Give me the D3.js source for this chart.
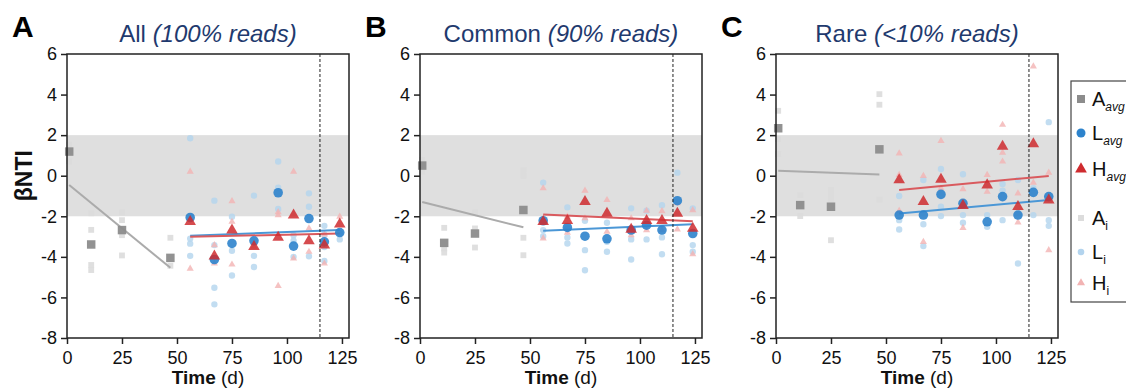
<!DOCTYPE html>
<html>
<head>
<meta charset="utf-8">
<script src="https://cdn.jsdelivr.net/npm/d3@7"></script>
<style>
  body { margin: 0; background: #fff; }
  text { font-family: "Liberation Sans", Arial, sans-serif; }
</style>
</head>
<body>
<div id="chart-area"></div>
<script>
// sampling days
const aTimes = [1, 11, 25, 47]
const times = [56, 67, 75, 85, 96, 103, 110, 117, 124]
const xTicks = [0, 25, 50, 75, 100, 125]
const yTicks = [-8, -6, -4, -2, 0, 2, 4, 6]
const cutoffDay = 115

// panel A: all reads
const allAAvg = [1.19, -3.39, -2.68, -4.05]
const allAInd = [[1.53, 1.2, 0.71], [-1.85, -2.67, -4.4, -4.65], [-1.81, -2.19, -2.93, -3.93], [-3.06, -4.44]]
const allLAvg = [-2.06, -4.13, -3.34, -3.21, -0.84, -3.47, -2.11, -3.26, -2.8]
const allLInd = [[1.85, -3.1, -3.35, -3.95], [-1.23, -3.42, -5.52, -6.34], [-2.02, -3.7, -4.92], [-0.98, -3.95, -4.5],
  [0.7, -0.59, -1.64], [-2.93, -3.2, -4.0], [-0.87, -1.53, -3.97], [-2.47, -2.9, -3.52, -4.2], [-2.82, -3.14]]
const allHAvg = [-2.27, -3.97, -2.68, -3.5, -3.04, -1.94, -3.21, -3.42, -2.39]
const allHInd = [[0.2, -2.14, -4.58], [-3.42, -4.33], [-1.25, -2.27, -4.38], [-3.3, -3.5], [-1.8, -1.94, -5.43],
  [0.2, -4.08], [-2.6, -3.75], [-2.9, -4.33], [-2.02]]
const allTrends = { a: [-0.46, -4.54], l: [-2.96, -2.68], h: [-3.01, -2.85] }

// panel B: common taxa
const comAAvg = [0.5, -3.31, -2.85, -1.69]
const comAInd = [[0.78, 0.2], [-2.57, -3.59, -3.79], [-1.81, -2.6, -3.54], [0.28, -0.01, -3.06, -3.92]]
const comLAvg = [-2.22, -2.55, -2.98, -3.11, -2.68, -2.44, -2.68, -1.23, -2.85]
const comLInd = [[-0.34, -2.68, -2.98], [-1.56, -2.6, -3.04, -3.34], [-2.22, -3.67, -4.66], [-2.32, -3.26, -3.75],
  [-1.61, -3.14, -4.13], [-1.73, -3.14], [-1.45, -3.04, -3.87], [0.15, -1.28], [-1.61, -3.42, -3.75]]
const comHAvg = [-2.27, -2.22, -1.28, -1.86, -2.65, -2.22, -2.22, -1.86, -2.6]
const comHInd = [[-0.62, -3.09], [-2.02, -2.81], [-0.74, -2.1], [-1.2, -2.76], [-2.1, -2.93],
  [-1.73, -2.68], [-1.75, -2.68], [-1.36, -2.65], [-1.7, -3.87]]
const comTrends = { a: [-1.3, -2.54], l: [-2.71, -2.39], h: [-1.91, -2.24] }

// panel C: rare taxa
const rareAAvg = [2.34, -1.45, -1.53, 1.3]
const rareAInd = [[3.2, 1.8, 1.07], [-0.95, -1.99], [-0.7, -0.95, -1.2, -3.18], [4.02, 3.5, -1.17]]
const rareLAvg = [-1.94, -1.94, -0.92, -1.36, -2.27, -1.03, -1.94, -0.82, -1.03]
const rareLInd = [[-1.0, -2.19, -2.65], [-0.21, -2.39, -3.47], [0.33, -1.53, -1.99], [0.07, -1.94, -2.32],
  [-1.94, -2.52], [-0.41, -0.74, -2.19], [-0.21, -4.33], [-0.62, -1.94], [2.64, -2.19, -2.47]]
const rareHAvg = [-0.21, -1.28, -0.18, -1.48, -0.46, 1.44, -1.53, 1.57, -1.2]
const rareHInd = [[1.1, 0.04, -1.73], [-0.01, -3.26], [1.72, -0.62], [-0.66, -2.57], [0.04, -0.79],
  [2.51, 1.14, 0.7], [-0.87, -2.3], [5.39, -0.34], [0.15, -3.67]]
const rareTrends = { a: [0.24, 0.06], l: [-1.86, -1.2], h: [-0.7, -0.01] }

const panels = [
  { letter: "A", name: "All ", note: "(100% reads)", left: 67, aAvg: allAAvg, aInd: allAInd, lAvg: allLAvg, lInd: allLInd, hAvg: allHAvg, hInd: allHInd, trends: allTrends },
  { letter: "B", name: "Common ", note: "(90% reads)", left: 420, aAvg: comAAvg, aInd: comAInd, lAvg: comLAvg, lInd: comLInd, hAvg: comHAvg, hInd: comHInd, trends: comTrends },
  { letter: "C", name: "Rare ", note: "(<10% reads)", left: 776, aAvg: rareAAvg, aInd: rareAInd, lAvg: rareLAvg, lInd: rareLInd, hAvg: rareHAvg, hInd: rareHInd, trends: rareTrends }
]

const colors = {
  aAvg: "#8c8c8c", lAvg: "#2d83cc", hAvg: "#cf2b2f",
  aInd: "#dcdcdc", lInd: "#b3d4ee", hInd: "#f2b3b3",
  aLine: "#ababab", lLine: "#4b97d6", hLine: "#d95a5e"
}

const svgWidth = 1126
const svgHeight = 389
const chartTop = 54
const chartWidth = 282
const chartHeight = 284

const svg = d3.select("#chart-area")
  .append("svg")
  .attr("width", svgWidth)
  .attr("height", svgHeight)

const yScale = d3.scaleLinear().domain([-8, 6]).range([chartHeight, 0])
const xScale = d3.scaleLinear().domain([0, 128.2]).range([0, chartWidth])

const sym = (type, size) => d3.symbol().type(type).size(size)()

// flatten per-day replicate lists into points
const flatten = (days, lists) => lists.flatMap((vals, i) => vals.map(v => ({ t: days[i], v })))

panels.forEach(p => {
  const g = svg.append("g").attr("transform", `translate(${p.left},${chartTop})`)

  // neutral zone
  g.append("rect")
    .attr("x", 0).attr("width", chartWidth)
    .attr("y", yScale(2)).attr("height", yScale(-2) - yScale(2))
    .attr("fill", "#dfdfdf")

  const drawPoints = (data, shape, size, color, opacity) => {
    g.append("g").selectAll("path")
      .data(data)
      .join("path")
      .attr("transform", d => `translate(${xScale(d.t)},${yScale(d.v)})`)
      .attr("d", sym(shape, size))
      .attr("fill", color)
      .attr("fill-opacity", opacity)
  }

  drawPoints(flatten(aTimes, p.aInd), d3.symbolSquare, 34, colors.aInd, 0.9)
  drawPoints(flatten(times, p.lInd), d3.symbolCircle, 32, colors.lInd, 0.8)
  drawPoints(flatten(times, p.hInd), d3.symbolTriangle, 22, colors.hInd, 0.8)

  // trend lines
  const lineGen = d3.line().x(d => xScale(d[0])).y(d => yScale(d[1]))
  const trendLine = (days, ends, color) => {
    g.append("path")
      .attr("d", lineGen([[days[0], ends[0]], [days[days.length - 1], ends[1]]]))
      .attr("fill", "none")
      .attr("stroke", color)
      .attr("stroke-width", 2)
  }
  trendLine(aTimes, p.trends.a, colors.aLine)
  trendLine(times, p.trends.l, colors.lLine)
  trendLine(times, p.trends.h, colors.hLine)

  drawPoints(aTimes.map((t, i) => ({ t, v: p.aAvg[i] })), d3.symbolSquare, 72, colors.aAvg, 0.95)
  drawPoints(times.map((t, i) => ({ t, v: p.lAvg[i] })), d3.symbolCircle, 72, colors.lAvg, 0.9)
  drawPoints(times.map((t, i) => ({ t, v: p.hAvg[i] })), d3.symbolTriangle, 58, colors.hAvg, 0.85)

  // switch day
  g.append("line")
    .attr("x1", xScale(cutoffDay)).attr("x2", xScale(cutoffDay))
    .attr("y1", 0).attr("y2", chartHeight)
    .attr("stroke", "#222")
    .attr("stroke-width", 1)
    .attr("stroke-dasharray", "3,2")

  // frame
  g.append("rect")
    .attr("width", chartWidth).attr("height", chartHeight)
    .attr("fill", "none").attr("stroke", "#222").attr("stroke-width", 1.5)

  const xAxis = g.append("g")
    .attr("transform", `translate(0,${chartHeight})`)
    .call(d3.axisBottom(xScale).tickValues(xTicks).tickFormat(d => String(d)).tickSize(6).tickPadding(7))
  const yAxis = g.append("g")
    .call(d3.axisLeft(yScale).tickValues(yTicks).tickFormat(d => String(d)).tickSize(6).tickPadding(4))
  ;[xAxis, yAxis].forEach(a => {
    a.select(".domain").remove()
    a.selectAll("line").attr("stroke", "#222").attr("stroke-width", 1.5)
    a.selectAll("text").attr("font-size", 18).attr("fill", "#111")
      .attr("font-family", "'Liberation Sans', Arial, sans-serif")
  })

  // x title
  const xt = g.append("text")
    .attr("x", chartWidth / 2).attr("y", chartHeight + 46)
    .attr("text-anchor", "middle").attr("font-size", 19).attr("fill", "#111")
  xt.append("tspan").attr("font-weight", "bold").text("Time")
  xt.append("tspan").text(" (d)")

  // title
  const tt = g.append("text")
    .attr("x", chartWidth / 2).attr("y", -12)
    .attr("text-anchor", "middle").attr("font-size", 24).attr("fill", "#1f3a6e")
  tt.append("tspan").text(p.name)
  tt.append("tspan").attr("font-style", "italic").text(p.note)

  svg.append("text")
    .attr("x", p.left - 55).attr("y", 37)
    .attr("font-size", 30).attr("font-weight", "bold").attr("fill", "#000")
    .text(p.letter)
})

// y axis label
svg.append("text")
  .attr("transform", `translate(32,${chartTop + yScale(0)}) rotate(-90)`)
  .attr("text-anchor", "middle")
  .attr("font-size", 23).attr("font-weight", "bold").attr("fill", "#111")
  .text("βNTI")

// legend
const legendItems = [
  { base: "A", sub: "avg", shape: d3.symbolSquare, size: 64, color: colors.aAvg, y: 99, italic: true },
  { base: "L", sub: "avg", shape: d3.symbolCircle, size: 64, color: colors.lAvg, y: 133, italic: true },
  { base: "H", sub: "avg", shape: d3.symbolTriangle, size: 60, color: colors.hAvg, y: 169, italic: true },
  { base: "A", sub: "i", shape: d3.symbolSquare, size: 36, color: colors.aInd, y: 218, italic: false },
  { base: "L", sub: "i", shape: d3.symbolCircle, size: 34, color: colors.lInd, y: 252, italic: false },
  { base: "H", sub: "i", shape: d3.symbolTriangle, size: 28, color: colors.hInd, y: 283, italic: false }
]
const legend = svg.append("g")
legend.append("rect")
  .attr("x", 1071).attr("y", 81).attr("width", 80).attr("height", 221)
  .attr("fill", "#fff").attr("stroke", "#444").attr("stroke-width", 1.2)
legendItems.forEach(it => {
  legend.append("path")
    .attr("transform", `translate(1081,${it.y})`)
    .attr("d", sym(it.shape, it.size))
    .attr("fill", it.color)
  const t = legend.append("text")
    .attr("x", 1092).attr("y", it.y + 7)
    .attr("font-size", 20).attr("fill", "#111")
  t.append("tspan").text(it.base)
  t.append("tspan").attr("font-size", 12).attr("dy", 5)
    .attr("font-style", it.italic ? "italic" : "normal").text(it.sub)
})
</script>
</body>
</html>
